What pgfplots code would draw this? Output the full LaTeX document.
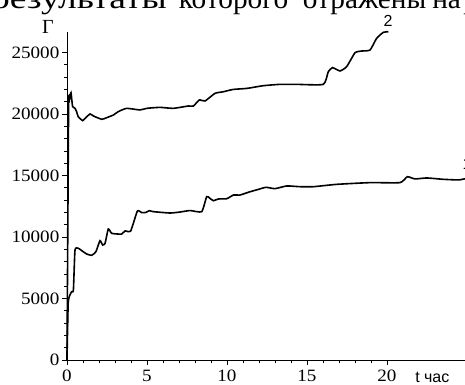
\documentclass[border=0pt]{standalone}
\usepackage{fontspec}
\setmainfont{Liberation Serif}
\newfontfamily\tickfont[FakeStretch=1.1]{Liberation Serif}
\newfontfamily\sansf{Liberation Sans}
\usepackage{pgfplots}
\pgfplotsset{compat=1.18}
\begin{document}
\begin{tikzpicture}
\useasboundingbox (0pt,0pt) rectangle (348.75pt,288.75pt);
\clip (0pt,0pt) rectangle (348.75pt,288.75pt);
\begin{scope}[every node/.style={font=\fontsize{22}{26}\selectfont, inner sep=0}]
\node[anchor=base east] at (125.25pt,282pt) {\scalebox{1.28}[1]{результаты}};
\node[anchor=base west] at (134pt,282pt) {которого};
\node[anchor=base west] at (227pt,282pt) {отражены};
\node[anchor=base west] at (324pt,282pt) {на};
\node[anchor=base west] at (347.25pt,282pt) {рис.};
\end{scope}
\begin{axis}[
  at={(50.25pt,18.75pt)}, anchor=south west,
  scale only axis, width=300pt, height=246.3pt,
  xmin=0, xmax=25, ymin=0, ymax=26700,
  enlargelimits=false, clip=false,
  axis lines=left, axis line style={-, line width=0.6pt},
  tick align=outside, major tick length=3.75pt, minor tick length=2.25pt,
  tick style={black, line width=0.5pt},
  xtick={0,5,10,15,20}, ytick={0,5000,10000,15000,20000,25000},
  minor x tick num=4, minor y tick num=4,
  scaled y ticks=false,
  /pgf/number format/assume math mode=true,
  /pgf/number format/1000 sep={},
  ticklabel style={font=\tickfont\fontsize{13}{13}\selectfont},
  yticklabel style={xshift=1.5pt},
]
\addplot[black, line width=1.2pt, smooth, tension=0.3] coordinates {
(0,0) (0.08,4740) (0.29,5550) (0.4,5690) (0.5,8940) (0.71,9080) (0.92,8890)
(1.23,8620) (1.54,8510) (1.81,8810) (2.06,9700) (2.23,9350) (2.38,9490)
(2.58,10650) (2.79,10300) (3.2,10240) (3.42,10240) (3.63,10490) (3.98,10490)
(4.4,12110) (4.67,11980) (4.94,12000) (5.14,12140) (5.4,12060) (6.44,11950)
(7.06,12030) (7.69,12150) (8.42,12060) (8.73,13280) (8.94,13140) (9.15,12950)
(9.46,13090) (9.98,13110) (10.4,13410) (10.8,13410) (11.44,13680) (11.96,13870)
(12.44,14040) (13,13930) (13.73,14150) (14.56,14090) (15.4,14090) (16.85,14280)
(18.94,14420) (20.81,14420) (21.27,14900) (21.75,14720) (22.48,14800)
(23.52,14690) (24.46,14640) (24.9,14740)
};
\addplot[black, line width=1.2pt, smooth, tension=0.3] coordinates {
(0,0) (0.1,20500) (0.17,21270) (0.25,21730) (0.35,20600) (0.5,20460) (0.6,20190)
(0.7,19780) (0.98,19460) (1.13,19650) (1.44,20000) (1.65,19840) (2.17,19570)
(2.48,19700) (2.9,19920) (3.2,20190) (3.73,20460) (4.56,20330) (4.98,20460)
(5.81,20540) (6.64,20460) (7.58,20650) (7.9,20650) (8.27,21140) (8.63,21060)
(9.25,21680) (9.77,21810) (10.4,22000) (11.23,22080) (12.27,22300) (13.31,22410)
(14.35,22410) (16.02,22410) (16.33,23440) (16.6,23770) (17.06,23500) (17.48,23850)
(18,24980) (18.42,25120) (18.94,25200) (19.35,26150) (19.77,26640) (20.08,26690)
};
\node[font=\sansf\fontsize{12}{12}\selectfont, inner sep=0] at (axis cs:20.06,27560) {2};
\node[font=\sansf\fontsize{12}{12}\selectfont, inner sep=0] at (axis cs:25.0,15930) {1};
\node[font=\fontsize{15}{15}\selectfont, inner sep=0] at (axis cs:-1.2,27070) {Г};
\node[font=\sansf\fontsize{12}{12}\selectfont, inner sep=0, anchor=base west] at (axis cs:21.75,-1870) {t час};
\end{axis}
\end{tikzpicture}
\end{document}
